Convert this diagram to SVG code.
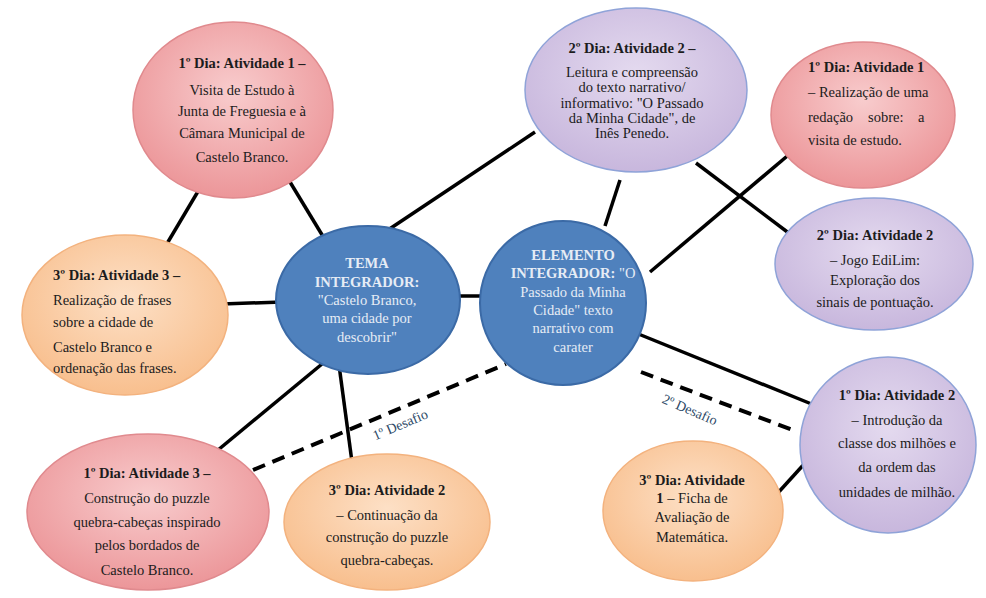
<svg xmlns="http://www.w3.org/2000/svg" width="986" height="598" viewBox="0 0 986 598">
<defs>
<radialGradient id="gPink" cx="50%" cy="40%" r="60%"><stop offset="0" stop-color="#f8cccd"/><stop offset="1" stop-color="#ec9699"/></radialGradient>
<radialGradient id="gPurple" cx="50%" cy="40%" r="60%"><stop offset="0" stop-color="#e4daef"/><stop offset="1" stop-color="#c8b7dd"/></radialGradient>
<radialGradient id="gOrange" cx="50%" cy="40%" r="60%"><stop offset="0" stop-color="#fde0c6"/><stop offset="1" stop-color="#f8bf8e"/></radialGradient>
</defs>
<style>
.pink{fill:url(#gPink);stroke:#e08a8e;stroke-width:1.5}
.purple{fill:url(#gPurple);stroke:#8fa3d8;stroke-width:1.5}
.orange{fill:url(#gOrange);stroke:#f3b27e;stroke-width:1.5}
.blue{fill:#4f81bd;stroke:#3b6aa6;stroke-width:2}
text{font-family:"Liberation Serif","DejaVu Serif",serif;font-size:14.5px;fill:#1c1c1c}
.c{text-anchor:middle}
.b{font-weight:bold}
.w{fill:#e6ecf5}
.ln{stroke:#000;stroke-width:3.5;fill:none;stroke-linecap:butt}
.dash{stroke:#000;stroke-width:4;fill:none;stroke-dasharray:13 8}
.lbl{font-size:14px;fill:#2e4a68}
</style>
<rect width="986" height="598" fill="#fff"/>
<g id="connectors">
<line class="ln" x1="203" y1="183" x2="162" y2="252"/>
<line class="ln" x1="290" y1="182" x2="327" y2="243"/>
<line class="ln" x1="385" y1="232" x2="535" y2="132"/>
<line class="ln" x1="222" y1="304" x2="282" y2="302"/>
<line class="ln" x1="455" y1="296" x2="486" y2="296"/>
<line class="ln" x1="322" y1="364" x2="212" y2="455"/>
<line class="ln" x1="339" y1="365" x2="352" y2="462"/>
<line class="ln" x1="620" y1="180" x2="605" y2="226"/>
<line class="ln" x1="650" y1="272" x2="792" y2="152"/>
<line class="ln" x1="696" y1="163" x2="794" y2="237"/>
<line class="ln" x1="636" y1="333" x2="814" y2="405"/>
<line class="ln" x1="806" y1="462" x2="776" y2="495"/>
<line class="dash" x1="253" y1="470" x2="506" y2="364"/>
<line class="dash" x1="641" y1="372" x2="795" y2="431"/>
<text class="lbl c" transform="translate(402,429) rotate(-23)">1º Desafio</text>
<text class="lbl c" transform="translate(688,414) rotate(23)">2º Desafio</text>
</g>
<g id="n1">
<ellipse class="pink" cx="233" cy="110" rx="100" ry="88"/>
<text class="c b" x="242" y="68">1º Dia: Atividade 1 –</text>
<text class="c" x="242" y="95">Visita de Estudo à</text>
<text class="c" x="242" y="116">Junta de Freguesia e à</text>
<text class="c" x="242" y="138">Câmara Municipal de</text>
<text class="c" x="242" y="162">Castelo Branco.</text>
</g>
<g id="n2">
<ellipse class="purple" cx="636" cy="90" rx="111" ry="82"/>
<text class="c b" x="632" y="53">2º Dia: Atividade 2 –</text>
<text class="c" x="632" y="77">Leitura e compreensão</text>
<text class="c" x="632" y="92">do texto narrativo/</text>
<text class="c" x="632" y="108">informativo: "O Passado</text>
<text class="c" x="632" y="123">da Minha Cidade", de</text>
<text class="c" x="632" y="138">Inês Penedo.</text>
</g>
<g id="n3">
<ellipse class="pink" cx="863" cy="115" rx="92" ry="73"/>
<text class="b" x="808" y="72">1º Dia: Atividade 1</text>
<text x="808" y="97">– Realização de uma</text>
<text x="808" y="122">redação</text>
<text x="868" y="122">sobre:</text>
<text x="918" y="122">a</text>
<text x="808" y="145">visita de estudo.</text>
</g>
<g id="n4">
<ellipse class="purple" cx="874" cy="264" rx="99" ry="66"/>
<text class="c b" x="875" y="240">2º Dia: Atividade 2</text>
<text class="c" x="875" y="265">– Jogo EdiLim:</text>
<text class="c" x="875" y="285">Exploração dos</text>
<text class="c" x="875" y="307">sinais de pontuação.</text>
</g>
<g id="n5">
<ellipse class="orange" cx="125" cy="315" rx="103" ry="80"/>
<text class="b" x="53" y="280">3º Dia: Atividade 3 –</text>
<text x="53" y="305">Realização de frases</text>
<text x="53" y="327">sobre a cidade de</text>
<text x="53" y="352">Castelo Branco e</text>
<text x="53" y="373">ordenação das frases.</text>
</g>
<g id="n6">
<ellipse class="blue" cx="368" cy="300" rx="92" ry="74"/>
<text class="c b w" x="367" y="268">TEMA</text>
<text class="c b w" x="367" y="287">INTEGRADOR:</text>
<text class="c w" x="367" y="305">"Castelo Branco,</text>
<text class="c w" x="367" y="323">uma cidade por</text>
<text class="c w" x="367" y="342">descobrir"</text>
</g>
<g id="n7">
<ellipse class="blue" cx="563" cy="303" rx="83" ry="82"/>
<text class="c b w" x="573" y="260">ELEMENTO</text>
<text class="c w" x="573" y="278"><tspan class="b">INTEGRADOR:</tspan> "O</text>
<text class="c w" x="573" y="297">Passado da Minha</text>
<text class="c w" x="573" y="315">Cidade" texto</text>
<text class="c w" x="573" y="333">narrativo com</text>
<text class="c w" x="573" y="352">carater</text>
</g>
<g id="n8">
<ellipse class="pink" cx="148" cy="512" rx="121" ry="78"/>
<text class="c b" x="147" y="478">1º Dia: Atividade 3 –</text>
<text class="c" x="147" y="503">Construção do puzzle</text>
<text class="c" x="147" y="527">quebra-cabeças inspirado</text>
<text class="c" x="147" y="550">pelos bordados de</text>
<text class="c" x="147" y="575">Castelo Branco.</text>
</g>
<g id="n9">
<ellipse class="orange" cx="387" cy="522" rx="103" ry="68"/>
<text class="c b" x="387" y="495">3º Dia: Atividade 2</text>
<text class="c" x="387" y="520">– Continuação da</text>
<text class="c" x="387" y="542">construção do puzzle</text>
<text class="c" x="387" y="565">quebra-cabeças.</text>
</g>
<g id="n10">
<ellipse class="purple" cx="888" cy="445" rx="88" ry="88"/>
<text class="c b" x="897" y="400">1º Dia: Atividade 2</text>
<text class="c" x="897" y="425">– Introdução da</text>
<text class="c" x="897" y="448">classe dos milhões e</text>
<text class="c" x="897" y="472">da ordem das</text>
<text class="c" x="897" y="497">unidades de milhão.</text>
</g>
<g id="n11">
<ellipse class="orange" cx="693" cy="511" rx="90" ry="70"/>
<text class="c b" x="692" y="485">3º Dia: Atividade</text>
<text class="c" x="692" y="503"><tspan class="b">1</tspan> – Ficha de</text>
<text class="c" x="692" y="522">Avaliação de</text>
<text class="c" x="692" y="542">Matemática.</text>
</g>
</svg>
